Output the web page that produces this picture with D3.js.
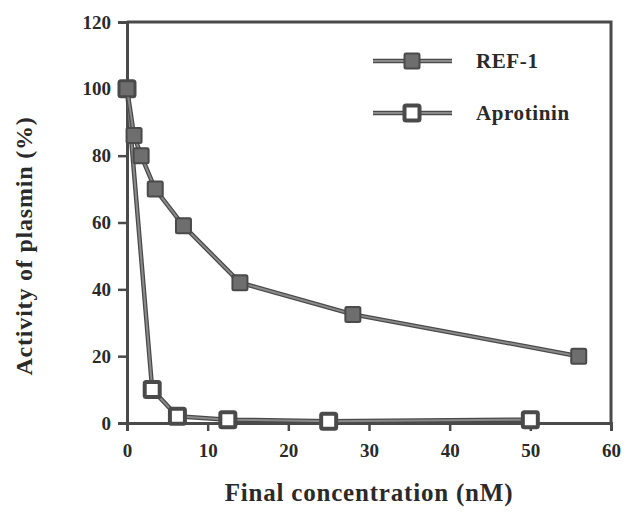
<!DOCTYPE html>
<html><head><meta charset="utf-8">
<script src="https://cdn.jsdelivr.net/npm/d3@7"></script>
<style>body{margin:0;background:#fff}svg text{font-family:"Liberation Serif","Times New Roman",serif;font-weight:bold;fill:#2a2a2a}</style>
</head><body>
<svg id="c" width="630" height="521"></svg>
<script>
const refConc = [0, 0.875, 1.75, 3.5, 7, 14, 28, 56];
const refActivity = [100, 86, 80, 70, 59, 42, 32.5, 20];
const aproConc = [0, 3.125, 6.25, 12.5, 25, 50];
const aproActivity = [100, 10, 2, 1, 0.5, 1];
const xTicks = [0, 10, 20, 30, 40, 50, 60];
const yTicks = [0, 20, 40, 60, 80, 100, 120];
const seriesNames = ["REF-1", "Aprotinin"];

const svg = d3.select("#c");
const x = d3.scaleLinear().domain([0, 60]).range([127, 611]);
const y = d3.scaleLinear().domain([0, 120]).range([423, 22]);
const dark = "#4a4a4a", mid = "#6e6e6e";
const ms = 15;

svg.append("path").attr("d", `M${x(0)},${y(120)}H${x(60)}V${y(0)}`)
  .attr("fill","none").attr("stroke",dark).attr("stroke-width",3);

const xa = svg.append("g").attr("transform",`translate(0,${y(0)})`)
  .call(d3.axisBottom(x).tickValues(xTicks).tickSize(8).tickPadding(13).tickFormat(d3.format("d")));
const ya = svg.append("g").attr("transform",`translate(${x(0)},0)`)
  .call(d3.axisLeft(y).tickValues(yTicks).tickSize(9).tickPadding(7).tickFormat(d3.format("d")));
[xa, ya].forEach(a => {
  a.select(".domain").attr("stroke",dark).attr("stroke-width",3);
  a.selectAll(".tick line").attr("stroke",dark).attr("stroke-width",2.5);
  a.selectAll("text").style("font-size","19px").attr("fill","#2a2a2a");
});

const line = d3.line().x(d => x(d[0])).y(d => y(d[1]));
function drawSeries(xs, ys, filled) {
  const pts = xs.map((v,i) => [v, ys[i]]);
  svg.append("path").datum(pts).attr("d", line).attr("fill","none")
    .attr("stroke",dark).attr("stroke-width",4.5);
  svg.append("path").datum(pts).attr("d", line).attr("fill","none")
    .attr("stroke","#8a8a8a").attr("stroke-width",2);
  svg.selectAll(null).data(pts).enter().append("rect")
    .attr("x", d => x(d[0]) - ms/2).attr("y", d => y(d[1]) - ms/2)
    .attr("width",ms).attr("height",ms).attr("rx",1.5)
    .attr("fill", filled ? mid : "#fff").attr("stroke", dark).attr("stroke-width", filled ? 2 : 4);
}
drawSeries(aproConc, aproActivity, false);
drawSeries(refConc, refActivity, true);

seriesNames.forEach((name, i) => {
  const ly = 61 + i * 52;
  const g = svg.append("g");
  g.append("line").attr("x1",373).attr("x2",452).attr("y1",ly).attr("y2",ly)
    .attr("stroke",dark).attr("stroke-width",4.5);
  g.append("line").attr("x1",373).attr("x2",452).attr("y1",ly).attr("y2",ly)
    .attr("stroke","#8a8a8a").attr("stroke-width",2);
  g.append("rect").attr("x",412-ms/2).attr("y",ly-ms/2).attr("width",ms).attr("height",ms).attr("rx",1.5)
    .attr("fill", i === 0 ? mid : "#fff").attr("stroke",dark).attr("stroke-width", i === 0 ? 2 : 4);
  g.append("text").attr("x",476).attr("y",ly+7).style("font-size","21px")
    .style("letter-spacing","0.6px").text(name);
});

svg.append("text").attr("x",369).attr("y",501).attr("text-anchor","middle")
  .style("font-size","25px").style("letter-spacing","0.8px").text("Final concentration (nM)");
svg.append("text").attr("transform","translate(32,246) rotate(-90)").attr("text-anchor","middle")
  .style("font-size","24px").style("letter-spacing","0.8px").text("Activity of plasmin (%)");
</script>
</body></html>
